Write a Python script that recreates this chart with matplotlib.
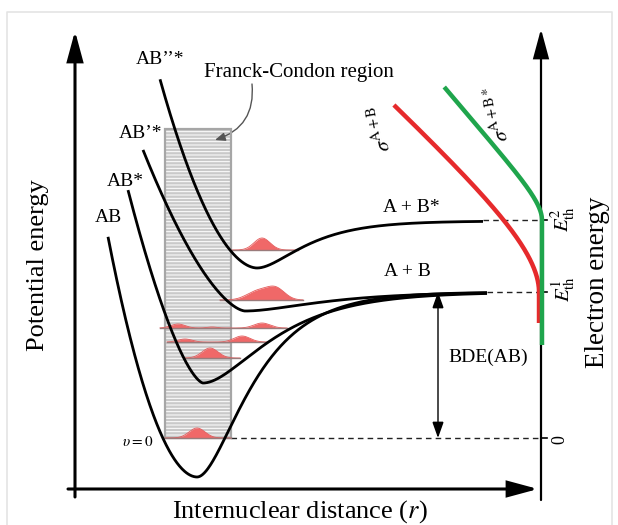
import numpy as np
import matplotlib
matplotlib.use("Agg")
import matplotlib.pyplot as plt
from matplotlib.patches import Rectangle, FancyArrowPatch

plt.rcParams['font.family'] = ['Liberation Serif', 'DejaVu Serif']
plt.rcParams['mathtext.fontset'] = 'stix'
plt.rcParams['hatch.linewidth'] = 0.7

# canvas is laid out in pixel units (x right, y down) of a 618x525 image
W, H = 618, 525

# potential energy curves: well position, well bottom, dissociation limit,
# right-side Morse range, left wall strength/power, drawn x range
pes_names = ['AB', 'AB*', 'AB\u2019*', 'AB\u2019\u2019*']
pes_xe = [197, 203, 245, 257]
pes_ymin = [477, 383, 311, 268]
pes_ylim = [292, 292, 292, 221]
pes_a = [0.022, 0.017, 0.015, 0.024]
pes_k = [0.0475, 0.297, 0.108, 0.0417]
pes_p = [1.9, 1.5, 1.58, 1.84]
pes_x0 = [108, 128, 143, 160]
pes_x1 = [487, 487, 487, 483]
pes_label_xy = [(108, 217), (125, 181), (141, 134), (160, 60)]

# vibrational wave packets: baseline level, x range, gaussian bumps (centre, height, width)
lvl_y = [438, 358, 342, 328, 300, 250]
lvl_x0 = [165, 184, 167, 160, 220, 232]
lvl_x1 = [231, 240, 267, 287, 303, 298]
lvl_bumps = [
    [(197, 10, 8)],
    [(210, 10, 8)],
    [(185, 3, 7), (242, 6, 8)],
    [(178, 4, 7), (212, 1, 5), (262, 5, 8)],
    [(258, 9, 11), (276, 11, 9)],
    [(262, 12, 8)],
]

# Franck-Condon region box
fc_x0, fc_x1, fc_y0, fc_y1 = 165, 231, 129, 438

# dissociation limits and zero level on the electron energy axis
E0, Eth1, Eth2 = 438, 292, 220

# threshold cross sections: threshold, slope, curvature width, top, bottom, offset
cs_thr = [292, 220]
cs_slope = [1.05, 0.85]
cs_w = [50, 18]
cs_top = [105, 87]
cs_bot = [323, 345]
cs_off = [-2, 1]
cs_colors = ['#e62a2c', '#1fa54c']

fig = plt.figure(figsize=(6.18, 5.25), dpi=100)
ax = fig.add_axes([0, 0, 1, 1])
ax.set_xlim(0, W)
ax.set_ylim(H, 0)
ax.axis('off')

# light frame
ax.plot([7, 7, 612, 612], [H, 12, 12, H], color='#e4e4e4', lw=1.2)

# axes
ax_left, ax_bottom, ax_right = 75, 489, 541
def arrow(p0, p1, lw=2.2, hl=1.0, hw=0.27, ms=18, style='-|>'):
    ax.add_patch(FancyArrowPatch(p0, p1, arrowstyle=f'{style},head_length={hl},head_width={hw}',
                                 mutation_scale=ms, lw=lw, color='black',
                                 shrinkA=0, shrinkB=0, joinstyle='miter'))
arrow((ax_left, 497), (ax_left, 31))
arrow((68, ax_bottom), (538, ax_bottom))
arrow((ax_right, 500), (ax_right, 29), lw=1.6)

# Franck-Condon box
ax.add_patch(Rectangle((fc_x0, fc_y0), fc_x1 - fc_x0, fc_y1 - fc_y0, facecolor='#c9c9c9',
                       edgecolor='white', hatch='-----', lw=0, zorder=1))
ax.add_patch(Rectangle((fc_x0, fc_y0), fc_x1 - fc_x0, fc_y1 - fc_y0, fill=False,
                       edgecolor='#a6a6a6', lw=1.6, zorder=1.5))

# wave packets
for y, x0, x1, bumps in zip(lvl_y, lvl_x0, lvl_x1, lvl_bumps):
    xx = np.linspace(x0, x1, 300)
    amp = np.zeros_like(xx)
    for c, h, s in bumps:
        amp += h * np.exp(-0.5 * ((xx - c) / s) ** 2)
    ax.fill_between(xx, y, y - amp, color='#f06868', lw=0, zorder=2)
    ax.plot(xx, y - amp, color='#e45a5a', lw=0.6, zorder=2)
    ax.plot([x0, x1], [y, y], color='#9a7b7b', lw=1.0, zorder=2.2)

# potential curves
for xe, ymin, ylim, a, k, p, x0, x1 in zip(pes_xe, pes_ymin, pes_ylim, pes_a,
                                           pes_k, pes_p, pes_x0, pes_x1):
    xx = np.linspace(x0, x1, 600)
    dx = xx - xe
    left = ymin - k * np.abs(dx) ** p
    right = ymin - (ymin - ylim) * (1 - np.exp(-a * dx)) ** 2
    ax.plot(xx, np.where(dx < 0, left, right), color='black', lw=2.0, zorder=3,
            solid_capstyle='butt')

for name, (x, y) in zip(pes_names, pes_label_xy):
    ax.text(x, y, name, fontsize=14, ha='center', va='center')

# dashed levels and ticks on the right axis
dash = dict(color='#222222', lw=1.0, ls=(0, (4, 3)))
ax.plot([fc_x1, ax_right], [E0, E0], **dash)
ax.plot([487, ax_right], [Eth1, Eth1], **dash)
ax.plot([483, ax_right], [Eth2, Eth2], **dash)
for y in [E0, Eth1, Eth2]:
    ax.plot([ax_right, ax_right + 6], [y, y], color='black', lw=1.2)

# BDE arrow
arrow((438, Eth1), (438, E0), lw=1.0, hl=0.7, hw=0.25, ms=14, style='<|-|>')
ax.text(488, 357, 'BDE(AB)', fontsize=14, ha='center', va='center')

ax.text(411, 207, 'A + B*', fontsize=14, ha='center', va='center')
ax.text(407, 272, 'A + B', fontsize=14, ha='center', va='center')
ax.text(138, 442, r'$\upsilon = 0$', fontsize=11, ha='center', va='center')

# Franck-Condon label
ax.text(299, 73, 'Franck-Condon region', fontsize=15, ha='center', va='center')
ax.add_patch(FancyArrowPatch((252, 84), (215, 140), connectionstyle='arc3,rad=-0.4',
                             arrowstyle='-|>,head_length=0.6,head_width=0.25',
                             mutation_scale=10, lw=1.0, color='#555555',
                             shrinkA=0, shrinkB=0))

# cross sections
for thr, s, w, top, bot, off, col in zip(cs_thr, cs_slope, cs_w, cs_top, cs_bot,
                                          cs_off, cs_colors):
    yy = np.linspace(top, bot, 500)
    E = np.clip(thr - yy, 0, None)
    sig = s * (E - w * (1 - np.exp(-E / w)))
    ax.plot(ax_right + off - sig, yy, color=col, lw=3.2, zorder=4, solid_capstyle='butt')

ax.text(381, 128, r'$\sigma^{\mathrm{A+B}}$', fontsize=15, rotation=100,
        ha='center', va='center')
ax.text(498, 113, r'$\sigma^{\mathrm{A+B*}}$', fontsize=15, rotation=100,
        ha='center', va='center')

ax.text(563, 219, r'$E^{2}_{\mathrm{th}}$', fontsize=15, rotation=90, ha='center', va='center')
ax.text(563, 289, r'$E^{1}_{\mathrm{th}}$', fontsize=15, rotation=90, ha='center', va='center')
ax.text(560, 440, '0', fontsize=13, rotation=90, ha='center', va='center')

# axis titles
ax.text(38, 265, 'Potential energy', fontsize=19, rotation=90, ha='center', va='center')
ax.text(598, 282, 'Electron energy', fontsize=19.5, rotation=90, ha='center', va='center')
ax.text(300, 512, 'Internuclear distance ($r$)', fontsize=19, ha='center', va='center')

fig.savefig('out.png', dpi=100)
